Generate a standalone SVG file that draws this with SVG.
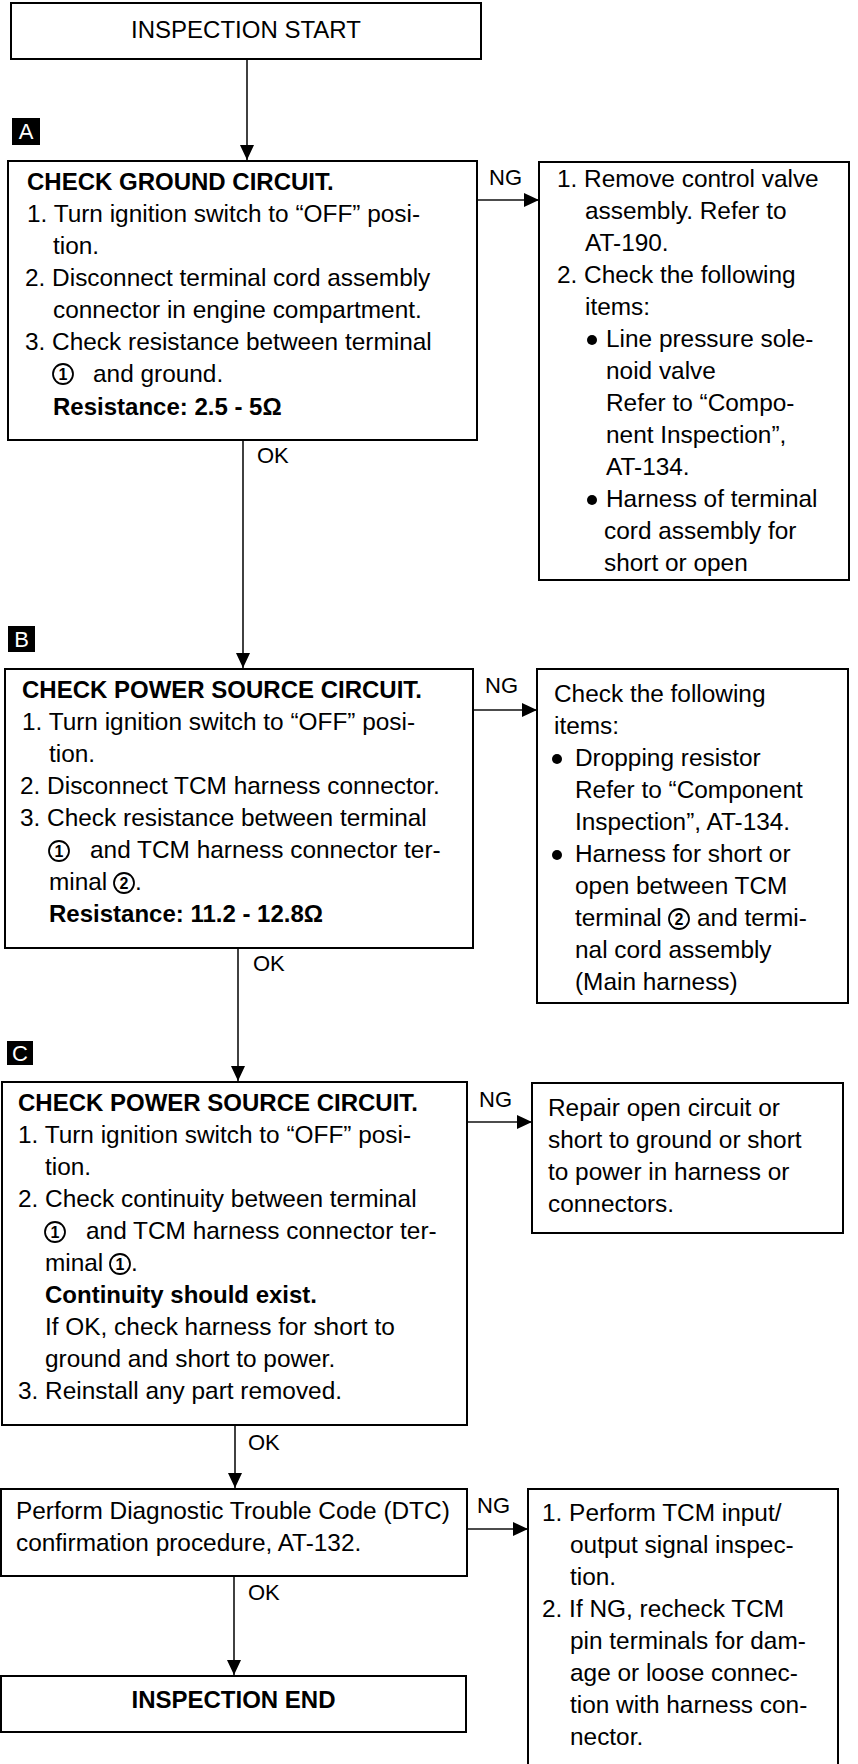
<svg xmlns="http://www.w3.org/2000/svg" width="858" height="1764" viewBox="0 0 858 1764">
<style>
.bx{fill:none;stroke:#000;stroke-width:2}
.t{font-family:"Liberation Sans",Arial,sans-serif;font-size:24.4px;fill:#000}
.b{font-weight:bold;font-size:24px}
.l{font-family:"Liberation Sans",Arial,sans-serif;font-size:22px;fill:#000}
.c{stroke:#111;stroke-width:1.6;fill:none}
.cn{fill:none;stroke:#000;stroke-width:1.8}
.cd{font-family:"Liberation Sans",Arial,sans-serif;font-size:16px;font-weight:bold;fill:#000;text-anchor:middle}
.tag{fill:#000}
.tagt{font-family:"Liberation Sans",Arial,sans-serif;font-size:22px;fill:#fff;text-anchor:middle}
</style>
<defs>
<marker id="ar" markerUnits="userSpaceOnUse" markerWidth="16" markerHeight="14" refX="15" refY="7" orient="auto">
<path d="M0,0 L15,7 L0,14 Z" fill="#000"/>
</marker>
</defs>
<rect width="858" height="1764" fill="#fff"/>

<g id="connectors">
<line class="c" x1="247" y1="59" x2="247" y2="160" marker-end="url(#ar)"/>
<line class="c" x1="243" y1="441" x2="243" y2="668" marker-end="url(#ar)"/>
<line class="c" x1="238" y1="949" x2="238" y2="1081" marker-end="url(#ar)"/>
<line class="c" x1="235" y1="1426" x2="235" y2="1488" marker-end="url(#ar)"/>
<line class="c" x1="234" y1="1577" x2="234" y2="1675" marker-end="url(#ar)"/>
<line class="c" x1="478" y1="200" x2="539" y2="200" marker-end="url(#ar)"/>
<line class="c" x1="474" y1="710" x2="537" y2="710" marker-end="url(#ar)"/>
<line class="c" x1="468" y1="1122" x2="532" y2="1122" marker-end="url(#ar)"/>
<line class="c" x1="468" y1="1529" x2="528" y2="1529" marker-end="url(#ar)"/>
<text class="l" x="257" y="463">OK</text>
<text class="l" x="253" y="971">OK</text>
<text class="l" x="248" y="1450">OK</text>
<text class="l" x="248" y="1600">OK</text>
<text class="l" x="489" y="185">NG</text>
<text class="l" x="485" y="693">NG</text>
<text class="l" x="479" y="1107">NG</text>
<text class="l" x="477" y="1513">NG</text>
</g>

<g id="tags">
<rect class="tag" x="12" y="118" width="28" height="27"/>
<text class="tagt" x="26" y="139">A</text>
<rect class="tag" x="8" y="626" width="27" height="26"/>
<text class="tagt" x="21.5" y="647">B</text>
<rect class="tag" x="7" y="1041" width="26" height="24"/>
<text class="tagt" x="20" y="1061">C</text>
</g>

<g id="start">
<rect class="bx" x="11" y="3" width="470" height="56"/>
<text class="t" x="246" y="38" text-anchor="middle" style="font-size:24px">INSPECTION START</text>
</g>

<g id="checkA">
<rect class="bx" x="8" y="161" width="469" height="279"/>
<text class="t b" x="27" y="190">CHECK GROUND CIRCUIT.</text>
<text class="t" x="27" y="222">1. Turn ignition switch to “OFF” posi-</text>
<text class="t" x="53" y="254">tion.</text>
<text class="t" x="25" y="286">2. Disconnect terminal cord assembly</text>
<text class="t" x="53" y="318">connector in engine compartment.</text>
<text class="t" x="25" y="350">3. Check resistance between terminal</text>
<circle class="cn" cx="63" cy="374" r="10"/>
<text class="cd" x="63" y="380">1</text>
<text class="t" x="93" y="382">and ground.</text>
<text class="t b" x="53" y="415">Resistance: 2.5 - 5Ω</text>
</g>

<g id="ngA">
<rect class="bx" x="539" y="162" width="310" height="418"/>
<text class="t" x="557" y="187">1. Remove control valve</text>
<text class="t" x="585" y="219">assembly. Refer to</text>
<text class="t" x="585" y="251">AT-190.</text>
<text class="t" x="557" y="283">2. Check the following</text>
<text class="t" x="585" y="315">items:</text>
<circle cx="592" cy="340" r="5" fill="#000"/>
<text class="t" x="606" y="347">Line pressure sole-</text>
<text class="t" x="606" y="379">noid valve</text>
<text class="t" x="606" y="411">Refer to “Compo-</text>
<text class="t" x="606" y="443">nent Inspection”,</text>
<text class="t" x="606" y="475">AT-134.</text>
<circle cx="592" cy="500" r="5" fill="#000"/>
<text class="t" x="606" y="507">Harness of terminal</text>
<text class="t" x="604" y="539">cord assembly for</text>
<text class="t" x="604" y="571">short or open</text>
</g>

<g id="checkB">
<rect class="bx" x="5" y="669" width="468" height="279"/>
<text class="t b" x="22" y="698">CHECK POWER SOURCE CIRCUIT.</text>
<text class="t" x="22" y="730">1. Turn ignition switch to “OFF” posi-</text>
<text class="t" x="49" y="762">tion.</text>
<text class="t" x="20" y="794">2. Disconnect TCM harness connector.</text>
<text class="t" x="20" y="826">3. Check resistance between terminal</text>
<circle class="cn" cx="59" cy="851" r="10"/>
<text class="cd" x="59" y="857">1</text>
<text class="t" x="90" y="858">and TCM harness connector ter-</text>
<text class="t" x="49" y="890">minal</text>
<circle class="cn" cx="124" cy="883" r="10"/>
<text class="cd" x="124" y="889">2</text>
<text class="t" x="135" y="890">.</text>
<text class="t b" x="49" y="922">Resistance: 11.2 - 12.8Ω</text>
</g>

<g id="ngB">
<rect class="bx" x="537" y="669" width="311" height="334"/>
<text class="t" x="554" y="702">Check the following</text>
<text class="t" x="554" y="734">items:</text>
<circle cx="557" cy="759" r="5" fill="#000"/>
<text class="t" x="575" y="766">Dropping resistor</text>
<text class="t" x="575" y="798">Refer to “Component</text>
<text class="t" x="575" y="830">Inspection”, AT-134.</text>
<circle cx="557" cy="855" r="5" fill="#000"/>
<text class="t" x="575" y="862">Harness for short or</text>
<text class="t" x="575" y="894">open between TCM</text>
<text class="t" x="575" y="926">terminal</text>
<circle class="cn" cx="679" cy="919" r="10"/>
<text class="cd" x="679" y="925">2</text>
<text class="t" x="697" y="926">and termi-</text>
<text class="t" x="575" y="958">nal cord assembly</text>
<text class="t" x="575" y="990">(Main harness)</text>
</g>

<g id="checkC">
<rect class="bx" x="2" y="1082" width="465" height="343"/>
<text class="t b" x="18" y="1111">CHECK POWER SOURCE CIRCUIT.</text>
<text class="t" x="18" y="1143">1. Turn ignition switch to “OFF” posi-</text>
<text class="t" x="45" y="1175">tion.</text>
<text class="t" x="18" y="1207">2. Check continuity between terminal</text>
<circle class="cn" cx="55" cy="1232" r="10"/>
<text class="cd" x="55" y="1238">1</text>
<text class="t" x="86" y="1239">and TCM harness connector ter-</text>
<text class="t" x="45" y="1271">minal</text>
<circle class="cn" cx="120" cy="1264" r="10"/>
<text class="cd" x="120" y="1270">1</text>
<text class="t" x="131" y="1271">.</text>
<text class="t b" x="45" y="1303">Continuity should exist.</text>
<text class="t" x="45" y="1335">If OK, check harness for short to</text>
<text class="t" x="45" y="1367">ground and short to power.</text>
<text class="t" x="18" y="1399">3. Reinstall any part removed.</text>
</g>

<g id="ngC">
<rect class="bx" x="532" y="1083" width="311" height="150"/>
<text class="t" x="548" y="1116">Repair open circuit or</text>
<text class="t" x="548" y="1148">short to ground or short</text>
<text class="t" x="548" y="1180">to power in harness or</text>
<text class="t" x="548" y="1212">connectors.</text>
</g>

<g id="dtc">
<rect class="bx" x="1" y="1489" width="466" height="87"/>
<text class="t" x="16" y="1519">Perform Diagnostic Trouble Code (DTC)</text>
<text class="t" x="16" y="1551">confirmation procedure, AT-132.</text>
</g>

<g id="ngD">
<path class="bx" d="M528,1764 V1489 H838 V1764"/>
<text class="t" x="542" y="1521">1. Perform TCM input/</text>
<text class="t" x="570" y="1553">output signal inspec-</text>
<text class="t" x="570" y="1585">tion.</text>
<text class="t" x="542" y="1617">2. If NG, recheck TCM</text>
<text class="t" x="570" y="1649">pin terminals for dam-</text>
<text class="t" x="570" y="1681">age or loose connec-</text>
<text class="t" x="570" y="1713">tion with harness con-</text>
<text class="t" x="570" y="1745">nector.</text>
</g>

<g id="end">
<rect class="bx" x="1" y="1676" width="465" height="56"/>
<text class="t b" x="233.5" y="1708" text-anchor="middle">INSPECTION END</text>
</g>
</svg>
